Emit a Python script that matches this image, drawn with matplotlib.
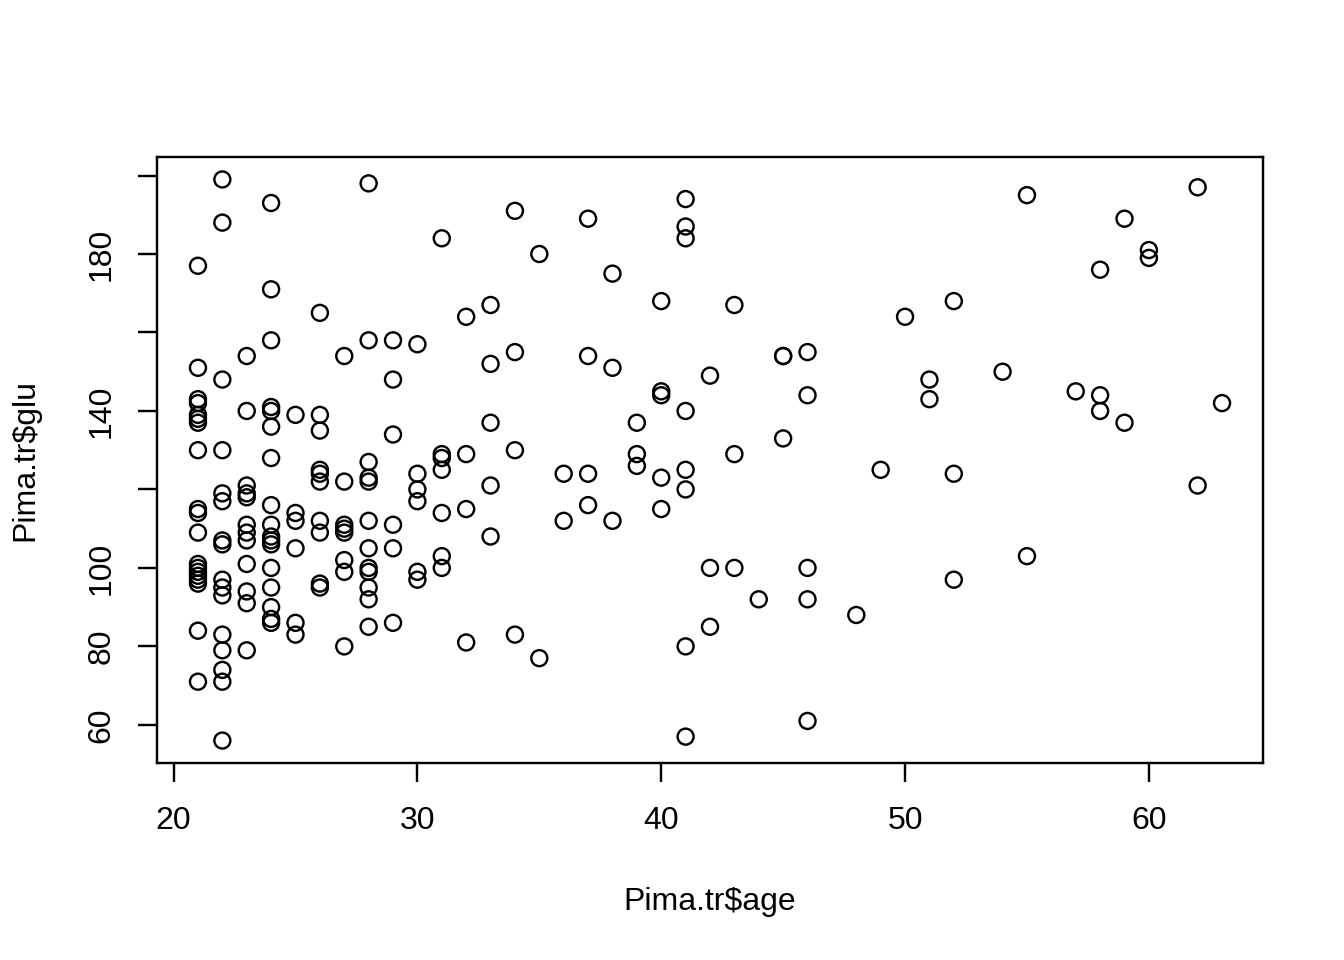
import numpy as np
import matplotlib
matplotlib.use("Agg")
import matplotlib.pyplot as plt

# Pima.tr: age vs plasma glucose
age = (
    [21] * 19 + [22] * 16 + [23] * 12 + [24] * 17 + [25] * 6 + [26] * 10
    + [27] * 8 + [28] * 12 + [29] * 6 + [30] * 6 + [31] * 7 + [32] * 4
    + [33] * 5 + [34] * 4 + [35] * 2 + [36] * 2 + [37] * 4 + [38] * 3
    + [39] * 3 + [40] * 5 + [41] * 8 + [42] * 3 + [43] * 3 + [44] * 1
    + [45] * 3 + [46] * 5 + [48, 49, 50] + [51] * 2 + [52] * 3 + [54]
    + [55] * 2 + [57] + [58] * 3 + [59] * 2 + [60] * 2 + [62] * 2 + [63]
)
glu = (
    [177, 151, 143, 142, 139, 138, 137, 130, 115, 114, 109, 101, 100, 99, 98, 97, 96, 84, 71]
    + [199, 188, 148, 130, 119, 117, 106, 107, 97, 95, 93, 83, 79, 74, 71, 56]
    + [154, 140, 121, 119, 118, 111, 109, 107, 101, 94, 91, 79]
    + [193, 171, 158, 141, 140, 136, 128, 116, 111, 108, 107, 106, 100, 95, 90, 87, 86]
    + [139, 114, 112, 105, 86, 83]
    + [165, 139, 135, 125, 124, 122, 112, 109, 96, 95]
    + [154, 122, 111, 110, 109, 102, 99, 80]
    + [198, 158, 127, 123, 122, 112, 105, 100, 99, 95, 92, 85]
    + [158, 148, 134, 111, 105, 86]
    + [157, 124, 120, 117, 99, 97]
    + [184, 129, 128, 125, 114, 103, 100]
    + [164, 129, 115, 81]
    + [167, 152, 137, 121, 108]
    + [191, 155, 130, 83]
    + [180, 77]
    + [124, 112]
    + [189, 154, 124, 116]
    + [175, 151, 112]
    + [137, 129, 126]
    + [168, 145, 144, 123, 115]
    + [194, 187, 184, 140, 125, 120, 80, 57]
    + [149, 100, 85]
    + [167, 129, 100]
    + [92]
    + [154, 154, 133]
    + [155, 144, 100, 92, 61]
    + [88, 125, 164]
    + [148, 143]
    + [168, 124, 97]
    + [150]
    + [195, 103]
    + [145]
    + [176, 144, 140]
    + [189, 137]
    + [181, 179]
    + [197, 121]
    + [142]
)

x_ticks = [20, 30, 40, 50, 60]
y_ticks = [60, 80, 100, 120, 140, 160, 180, 200]
y_labels = ["60", "80", "100", "", "140", "", "180", ""]

plt.rcParams.update({
    "font.family": ["Liberation Sans", "DejaVu Sans"],
    "font.size": 12,
})

fig = plt.figure(figsize=(7, 5), dpi=192, facecolor="white")
ax = fig.add_axes([157 / 1344, 1 - 763 / 960, 1106 / 1344, 606 / 960])

ax.scatter(age, glu, s=36, facecolors="none", edgecolors="black", linewidths=0.9)

# R-style 4% padding around the data range
a = np.array(age)
g = np.array(glu)
px = 0.04 * (a.max() - a.min())
py = 0.04 * (g.max() - g.min())
ax.set_xlim(a.min() - px, a.max() + px)
ax.set_ylim(g.min() - py, g.max() + py)

ax.set_xticks(x_ticks)
ax.set_yticks(y_ticks)
ax.set_yticklabels(y_labels, rotation=90, va="center")
ax.tick_params(direction="out", length=7.2, width=0.9, color="black")
ax.tick_params(axis="x", pad=9)
ax.tick_params(axis="y", pad=8)
for s in ax.spines.values():
    s.set_linewidth(0.9)

ax.set_xlabel("Pima.tr$age")
ax.set_ylabel("Pima.tr$glu")
ax.xaxis.label.set_va("center")
ax.yaxis.label.set_va("center")
ax.xaxis.set_label_coords(0.5, (763 - 902) / 606)
ax.yaxis.set_label_coords((25 - 157) / 1106, 0.5)

fig.savefig("out.png", dpi=192, facecolor="white")
